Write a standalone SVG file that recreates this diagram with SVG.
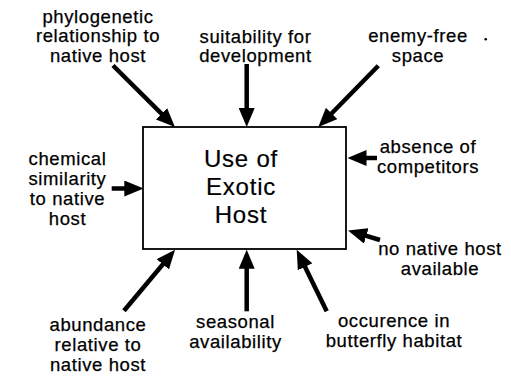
<svg xmlns="http://www.w3.org/2000/svg" width="511" height="378" viewBox="0 0 511 378">
<defs>
<style>
.lbl{font-family:"Liberation Sans",Arial,Helvetica,sans-serif;font-size:18.5px;letter-spacing:0.6px;text-anchor:middle;fill:#000;stroke:#000;stroke-width:0.25}
.big{font-family:"Liberation Sans",Arial,Helvetica,sans-serif;font-size:24px;letter-spacing:0.8px;text-anchor:middle;fill:#000;stroke:#000;stroke-width:0.2}
.arr{stroke:#000;stroke-width:4.5;fill:none;marker-end:url(#ah)}
</style>
<marker id="ah" viewBox="0 0 19 16" refX="6" refY="8" markerWidth="19" markerHeight="16" markerUnits="userSpaceOnUse" orient="auto">
<path d="M0,0 L19,8 L0,16 z" fill="#000"/>
</marker>
</defs>
<rect width="511" height="378" fill="#fff"/>
<g id="center">
<rect x="143" y="127" width="203" height="122" fill="#fff" stroke="#000" stroke-width="1.8"/>
<text class="big" x="241" y="166.5">Use of</text>
<text class="big" x="241" y="195">Exotic</text>
<text class="big" x="241" y="223">Host</text>
</g>
<g id="connectors">
<line class="arr" x1="113" y1="65.5" x2="165.7" y2="117.9"/>
<line class="arr" x1="246.7" y1="64" x2="246.7" y2="114"/>
<line class="arr" x1="378.3" y1="65.7" x2="327.4" y2="117.7"/>
<line class="arr" x1="377" y1="158" x2="360.5" y2="158"/>
<line class="arr" x1="111.7" y1="188.5" x2="130.3" y2="188.5"/>
<line class="arr" x1="380" y1="240" x2="360.5" y2="234.2"/>
<line class="arr" x1="124" y1="310.7" x2="166.7" y2="259.7"/>
<line class="arr" x1="246.7" y1="311.3" x2="246.7" y2="262.7"/>
<line class="arr" x1="326.7" y1="311.3" x2="302.4" y2="261.4"/>
</g>
<g id="phylogenetic">
<text class="lbl" x="98" y="22.7">phylogenetic</text>
<text class="lbl" x="98" y="42">relationship to</text>
<text class="lbl" x="98" y="61.5">native host</text>
</g>
<g id="suitability">
<text class="lbl" x="255.5" y="42.5">suitability for</text>
<text class="lbl" x="255.5" y="61.7">development</text>
</g>
<g id="enemy">
<text class="lbl" x="418" y="41.7">enemy-free</text>
<text class="lbl" x="418" y="61.5">space</text>
<circle cx="485.7" cy="39.3" r="1.3" fill="#000"/>
</g>
<g id="absence">
<text class="lbl" x="428" y="153.3">absence of</text>
<text class="lbl" x="428" y="173">competitors</text>
</g>
<g id="chemical">
<text class="lbl" x="67.5" y="165">chemical</text>
<text class="lbl" x="67.5" y="185">similarity</text>
<text class="lbl" x="67.5" y="205">to native</text>
<text class="lbl" x="67.5" y="225">host</text>
</g>
<g id="nonative">
<text class="lbl" x="440" y="254.7">no native host</text>
<text class="lbl" x="440" y="275">available</text>
</g>
<g id="abundance">
<text class="lbl" x="98" y="330.5">abundance</text>
<text class="lbl" x="98" y="350.5">relative to</text>
<text class="lbl" x="98" y="370.5">native host</text>
</g>
<g id="seasonal">
<text class="lbl" x="235.5" y="327.5">seasonal</text>
<text class="lbl" x="235.5" y="347.5">availability</text>
</g>
<g id="occurence">
<text class="lbl" x="394" y="326.5">occurence in</text>
<text class="lbl" x="394" y="346.5">butterfly habitat</text>
</g>
</svg>
